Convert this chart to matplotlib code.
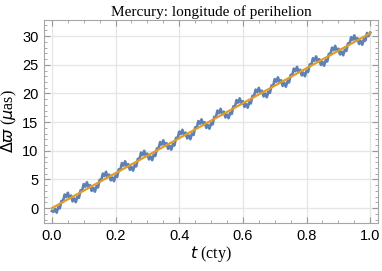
import numpy as np
import matplotlib
matplotlib.use("Agg")
import matplotlib.pyplot as plt
from matplotlib.ticker import MultipleLocator

# time in centuries, 0.005 cty steps
t = np.linspace(0.0, 1.0, 201)

# blue curve
dw = [
    -0.50, -0.65, -0.15, -0.79, 0.16, -0.04, 1.27, 1.17, 2.37, 1.92, 2.68, 1.78,
    2.18, 1.18, 1.69, 1.04, 1.99, 1.79, 3.10, 3.00, 4.20, 3.75, 4.51, 3.61,
    4.01, 3.01, 3.52, 2.87, 3.82, 3.62, 4.93, 4.83, 6.03, 5.58, 6.34, 5.44,
    5.84, 4.84, 5.35, 4.70, 5.65, 5.45, 6.76, 6.66, 7.86, 7.41, 8.17, 7.27,
    7.67, 6.67, 7.18, 6.53, 7.48, 7.28, 8.59, 8.49, 9.69, 9.24, 10.00, 9.10,
    9.50, 8.50, 9.01, 8.36, 9.31, 9.11, 10.42, 10.32, 11.52, 11.07, 11.83, 10.93,
    11.33, 10.33, 10.84, 10.19, 11.14, 10.94, 12.25, 12.15, 13.35, 12.90, 13.66, 12.76,
    13.16, 12.16, 12.67, 12.02, 12.97, 12.77, 14.08, 13.98, 15.18, 14.73, 15.49, 14.59,
    14.99, 13.99, 14.50, 13.85, 14.80, 14.60, 15.91, 15.81, 17.01, 16.56, 17.32, 16.42,
    16.82, 15.82, 16.33, 15.68, 16.63, 16.43, 17.74, 17.64, 18.84, 18.39, 19.15, 18.25,
    18.65, 17.65, 18.16, 17.51, 18.46, 18.26, 19.57, 19.47, 20.67, 20.22, 20.98, 20.08,
    20.48, 19.48, 19.99, 19.34, 20.29, 20.09, 21.40, 21.30, 22.50, 22.05, 22.81, 21.91,
    22.31, 21.31, 21.82, 21.17, 22.12, 21.92, 23.23, 23.13, 24.33, 23.88, 24.64, 23.74,
    24.14, 23.14, 23.65, 23.00, 23.95, 23.75, 25.06, 24.96, 26.16, 25.71, 26.47, 25.57,
    25.97, 24.97, 25.48, 24.83, 25.78, 25.58, 26.89, 26.79, 27.99, 27.54, 28.30, 27.40,
    27.80, 26.80, 27.31, 26.66, 27.61, 27.41, 28.72, 28.62, 29.82, 29.37, 30.13, 29.23,
    29.63, 28.63, 29.14, 28.49, 29.44, 29.24, 30.55, 30.00, 30.60,
]

# orange secular trend
trend_t = [0.0, 1.0]
trend_dw = [0.0, 30.5]

xticks = [0.0, 0.2, 0.4, 0.6, 0.8, 1.0]
yticks = [0, 5, 10, 15, 20, 25, 30]

plt.rcParams['font.family'] = ['Liberation Serif', 'DejaVu Serif']
plt.rcParams['mathtext.fontset'] = 'dejavusans'

fig = plt.figure(figsize=(3.82, 2.71), dpi=100)
ax = fig.add_axes([0.115, 0.177, 0.875, 0.749])

ax.plot(t, dw, color='#5E81B5', lw=1.9, zorder=3)
ax.plot(trend_t, trend_dw, color='#E19C24', lw=1.6, zorder=4)

ax.set_xlim(-0.025, 1.025)
ax.set_ylim(-2.6, 32.8)
ax.set_xticks(xticks)
ax.set_yticks(yticks)
ax.set_xticklabels(['%.1f' % v for v in xticks], family='Liberation Sans', fontsize=10.5)
ax.set_yticklabels([str(v) for v in yticks], family='Liberation Sans', fontsize=10.5)
ax.xaxis.set_minor_locator(MultipleLocator(0.05))
ax.yaxis.set_minor_locator(MultipleLocator(1))
ax.tick_params(which='both', direction='in', top=True, right=True, color='#999999', pad=4)
ax.tick_params(which='major', length=4, width=0.8)
ax.tick_params(which='minor', length=2, width=0.6)
ax.grid(True, which='major', color='#e6e6e6', lw=1.0, zorder=0)
for s in ax.spines.values():
    s.set_color('#a6a6a6')
    s.set_linewidth(0.8)

ax.set_title('Mercury: longitude of perihelion', fontsize=11, pad=3)
ax.set_xlabel(r'$t$ (cty)', fontsize=11.5, labelpad=1)
ax.set_ylabel(r'$\Delta\varpi$ ($\mu$as)', fontsize=11.5, labelpad=2)

fig.savefig('out.png', dpi=100)
